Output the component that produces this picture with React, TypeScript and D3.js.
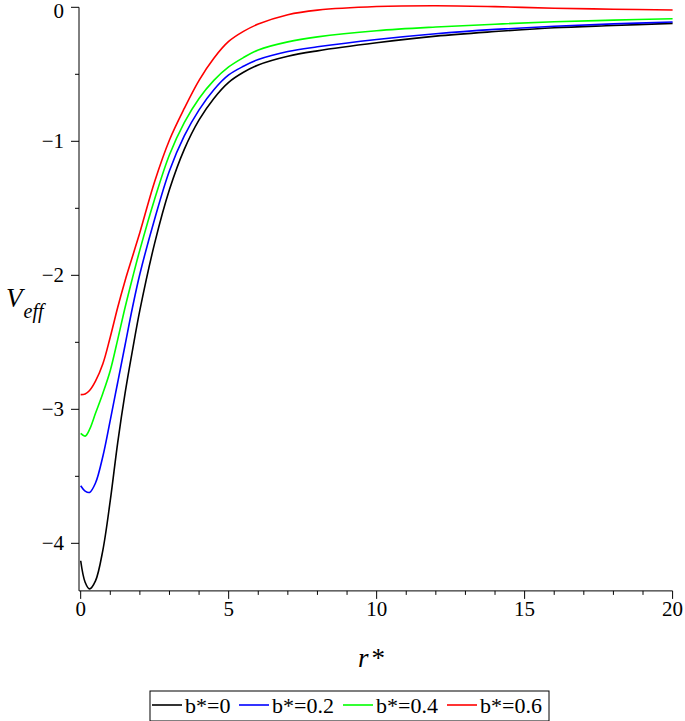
import React from "react";
// @ts-ignore
import * as d3 from "d3";

const WIDTH = 685;
const HEIGHT = 721;

// r* sample points shared by all curves
const R_VALUES = [0, 0.15, 0.3, 0.5, 0.75, 1, 1.25, 1.5, 1.75, 2, 2.5, 3, 3.5, 4, 4.5, 5, 5.5, 6, 7, 8, 10, 12, 14, 16, 18, 20];

const V_B0 = [-4.13, -4.29, -4.34, -4.28, -4.05, -3.68, -3.25, -2.88, -2.56, -2.26, -1.76, -1.36, -1.06, -0.84, -0.68, -0.56, -0.485, -0.43, -0.365, -0.325, -0.265, -0.215, -0.181, -0.153, -0.136, -0.12];
const V_B02 = [-3.57, -3.61, -3.62, -3.55, -3.35, -3.08, -2.8, -2.52, -2.24, -1.99, -1.58, -1.22, -0.96, -0.765, -0.615, -0.505, -0.44, -0.39, -0.33, -0.295, -0.24, -0.197, -0.165, -0.141, -0.124, -0.11];
const V_B04 = [-3.18, -3.2, -3.15, -3.03, -2.88, -2.71, -2.48, -2.24, -2.02, -1.81, -1.43, -1.1, -0.86, -0.68, -0.545, -0.445, -0.375, -0.318, -0.258, -0.221, -0.175, -0.147, -0.126, -0.108, -0.096, -0.085];
const V_B06 = [-2.89, -2.885, -2.86, -2.79, -2.66, -2.46, -2.24, -2.04, -1.86, -1.68, -1.3, -0.99, -0.755, -0.545, -0.38, -0.255, -0.18, -0.125, -0.055, -0.021, 0.006, 0.012, 0.005, -0.007, -0.014, -0.02];

const SERIES_LABELS = ["b*=0", "b*=0.2", "b*=0.4", "b*=0.6"];
const SERIES_COLORS = ["#000000", "#0000ff", "#00ff00", "#ff0000"];
const SERIES_VALUES = [V_B0, V_B02, V_B04, V_B06];

const X_TICKS = [0, 5, 10, 15, 20];
const Y_TICKS = [0, -1, -2, -3, -4];

const FONT = "Liberation Serif, Times New Roman, DejaVu Serif, serif";
const LEGEND_X = [152, 239, 343, 447];

const App = () => {
  const svgRef = React.useRef<SVGSVGElement>(null);

  React.useEffect(() => {
    const svg = d3.select(svgRef.current);
    svg.selectAll("*").remove();

    const x = d3.scaleLinear().domain([-0.057, 20]).range([79, 672.6]);
    const y = d3.scaleLinear().domain([-4.355, 0]).range([590.9, 7.3]);

    // curves
    const line = d3
      .line()
      .x((d: any) => x(d[0]))
      .y((d: any) => y(d[1]))
      .curve(d3.curveCatmullRom.alpha(0.5));

    SERIES_VALUES.forEach((vals, i) => {
      svg
        .append("path")
        .attr("d", line(R_VALUES.map((r, j) => [r, vals[j]])))
        .attr("fill", "none")
        .attr("stroke", SERIES_COLORS[i])
        .attr("stroke-width", 1.6);
    });

    // x axis
    const xAxis = svg.append("g").attr("stroke", "#000").attr("stroke-width", 1);
    xAxis.append("line").attr("x1", x.range()[0]).attr("x2", x.range()[1]).attr("y1", y(-4.355)).attr("y2", y(-4.355));
    d3.range(0, 21, 1).forEach((t: number) => {
      const major = t % 5 === 0;
      xAxis
        .append("line")
        .attr("x1", x(t))
        .attr("x2", x(t))
        .attr("y1", y(-4.355))
        .attr("y2", y(-4.355) + (major ? 8 : 4));
    });
    svg
      .append("g")
      .style("font-family", FONT)
      .selectAll("text")
      .data(X_TICKS)
      .join("text")
      .attr("x", (d: number) => x(d))
      .attr("y", 616)
      .attr("text-anchor", "middle")
      .attr("font-size", 21)
      .text((d: number) => d);

    // y axis
    const yAxis = svg.append("g").attr("stroke", "#000").attr("stroke-width", 1);
    yAxis.append("line").attr("x1", 79).attr("x2", 79).attr("y1", y(0)).attr("y2", y(-4.355));
    d3.range(0, -4.01, -0.5).forEach((t: number) => {
      const major = Math.abs(t % 1) < 1e-6;
      yAxis
        .append("line")
        .attr("x1", 79 - (major ? 8 : 4))
        .attr("x2", 79)
        .attr("y1", y(t))
        .attr("y2", y(t));
    });
    svg
      .append("g")
      .style("font-family", FONT)
      .selectAll("text")
      .data(Y_TICKS)
      .join("text")
      .attr("x", 64)
      .attr("y", (d: number) => Math.max(y(d) + 7, 18))
      .attr("text-anchor", "end")
      .attr("font-size", 21)
      .text((d: number) => (d === 0 ? "0" : "\u2212" + Math.abs(d)));

    // axis titles
    const vt = svg
      .append("text")
      .attr("x", 6)
      .attr("y", 307)
      .style("font-family", FONT)
      .attr("font-style", "italic");
    vt.append("tspan").attr("font-size", 27).text("V");
    vt.append("tspan").attr("font-size", 20).attr("dy", 11).attr("dx", 1).text("eff");

    const rt = svg
      .append("text")
      .attr("x", 358)
      .attr("y", 667)
      .style("font-family", FONT)
      .attr("font-size", 27);
    rt.append("tspan").attr("font-style", "italic").text("r");
    rt.append("tspan").attr("dx", 3).text("*");

    // legend
    const legend = svg.append("g").style("font-family", FONT);
    legend
      .append("rect")
      .attr("x", 150)
      .attr("y", 691)
      .attr("width", 399)
      .attr("height", 30)
      .attr("fill", "none")
      .attr("stroke", "#000")
      .attr("stroke-width", 1);
    SERIES_LABELS.forEach((label, i) => {
      const lx = LEGEND_X[i];
      legend
        .append("line")
        .attr("x1", lx)
        .attr("x2", lx + 30)
        .attr("y1", 705)
        .attr("y2", 705)
        .attr("stroke", SERIES_COLORS[i])
        .attr("stroke-width", 1.6);
      legend
        .append("text")
        .attr("x", lx + 33)
        .attr("y", 713)
        .attr("font-size", 22)
        .text(label);
    });
  }, []);

  return (
    <div style={{ position: "absolute", left: 0, top: 0, width: WIDTH, height: HEIGHT, background: "#fff" }}>
      <svg width={WIDTH} height={HEIGHT} ref={svgRef} style={{ display: "block" }} />
    </div>
  );
};

export default App;
